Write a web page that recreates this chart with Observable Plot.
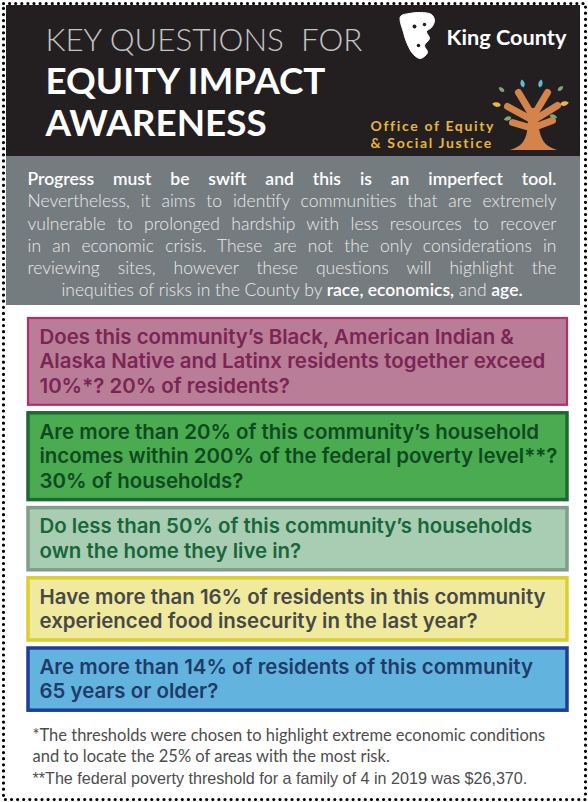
<!DOCTYPE html>
<html><head><meta charset="utf-8">
<script src="https://cdn.jsdelivr.net/npm/d3@7"></script>
<script src="https://cdn.jsdelivr.net/npm/@observablehq/plot@0.6"></script>
<style>html,body{margin:0;padding:0;background:#fff;overflow:hidden}</style>
</head><body><div id="chart"></div>
<script>
// ---------- content ----------
const titleLines = ["KEY QUESTIONS  FOR", "EQUITY IMPACT", "AWARENESS"];
const brandName = "King County";
const officeLines = ["Office of Equity", "& Social Justice"];
const introLines = [
  "Progress must be swift and this is an imperfect tool.",
  "Nevertheless, it aims to identify communities that are extremely",
  "vulnerable to prolonged hardship with less resources to recover",
  "in an economic crisis. These are not the only considerations in",
  "reviewing sites, however these questions will highlight the",
  "inequities of risks in the County by race, economics, and age."
];
const introEmphasis = ["race, economics,", "age."];
const questionThemes = ["race", "income", "housing", "food", "age"];
const questionLines = [
  ["Does this community’s Black, American Indian &", "Alaska Native and Latinx residents together exceed", "10%*? 20% of residents?"],
  ["Are more than 20% of this community’s household", "incomes within 200% of the federal poverty level**?", "30% of households?"],
  ["Do less than 50% of this community’s households", "own the home they live in?"],
  ["Have more than 16% of residents in this community", "experienced food insecurity in the last year?"],
  ["Are more than 14% of residents of this community", "65 years or older?"]
];
const footnoteLines = [
  "*The thresholds were chosen to highlight extreme economic conditions",
  "and to locate the 25% of areas with the most risk.",
  "**The federal poverty threshold for a family of 4 in 2019 was $26,370."
];
const leafKinds = ["blue", "blue", "green", "green", "yellow", "yellow", "green", "green"];

// ---------- styles ----------
const theme = {
  race:    {fill: "#b97d97", stroke: "#b3306b", text: "#7a2553", sw: 2.2},
  income:  {fill: "#4bab50", stroke: "#1c6a33", text: "#0e4a21", sw: 3.5},
  housing: {fill: "#a9cdb2", stroke: "#7f9f87", text: "#17673a", sw: 3.5},
  food:    {fill: "#f0ea9e", stroke: "#dbce2d", text: "#484848", sw: 3.5},
  age:     {fill: "#63b3df", stroke: "#1d3f98", text: "#1f3b69", sw: 3.5}
};
const leafColor = {blue: "#5bbcd4", green: "#7ba874", yellow: "#eab83c"};

// ---------- layout ----------
const W = 588, H = 802;
const L = {
  panelX1: 6, panelX2: 580, headTop: 5, headBottom: 156, bandBottom: 305,
  titleX: 45, titleY: [40, 82, 124],
  introX1: 27, introX2: 556, introY0: 179, introDy: 22.2,
  boxX1: 28, boxX2: 567, boxTop: 318, lineH: 24.6, pad: 6.5, gap: 8, textX: 39,
  footX: 32, footY: [735, 756, 778]
};
// target text widths (px) used to fit font sizes / tracking
const fit = {title0: 317, title1: 280, brand: 120, office: 124, question: 506, foot0: 513, foot2: 495};

let yy = L.boxTop;
const boxes = questionThemes.map((t, i) => {
  const n = questionLines[i].length;
  const b = {theme: t, y1: yy, y2: yy + n * L.lineH + 2 * L.pad};
  yy = b.y2 + L.gap;
  return b;
});
const qText = questionLines.flatMap((lines, i) => lines.map((s, j) => ({
  text: s, theme: questionThemes[i], y: boxes[i].y1 + L.pad + L.lineH * (j + 0.5)
})));
const panels = [
  {x1: L.panelX1, x2: L.panelX2, y1: L.headTop, y2: L.headBottom, fill: "#231f20"},
  {x1: L.panelX1, x2: L.panelX2, y1: L.headBottom, y2: L.bandBottom, fill: "#757c7f"}
];
// logo geometry (decorative)
const treeC = {x: 532, y: 108};
const leafPose = [[-10, -25, -12, 10], [8, -25, 12, 10], [-31, -19, -52, 7.5], [28, -20, 52, 7.5],
                  [-36, -4, -80, 12], [32, -5, 80, 12], [-25, 10, -110, 10], [21, 8, 110, 10]];
const leaves = leafKinds.map((k, i) => ({x: treeC.x + leafPose[i][0], y: treeC.y + leafPose[i][1], rot: leafPose[i][2], r: leafPose[i][3], fill: leafColor[k]}));
const trunk = [[150, 510, 557], [146, 521, 546], [136, 527, 540], [122, 528, 538], [108, 528, 537]]
  .map(([y, x1, x2]) => ({y, x1, x2}));
const branches = [[530, 112, 518, 92], [535, 112, 547, 92], [529, 118, 507, 106], [536, 118, 557, 105],
                  [529, 127, 512, 122], [536, 126, 552, 120]].map(([x1, y1, x2, y2]) => ({x1, y1, x2, y2}));
const face = [[400, 16], [409, 13], [420, 12], [431, 14], [434, 20], [431, 27], [426, 31], [429, 38], [424, 45], [427, 52], [420, 58], [413, 54], [407, 44], [403, 32]]
  .map(([x, y]) => ({x, y}));
const faceMarks = [[414, 26, 2.4], [424, 24, 2], [418, 45, 2]].map(([x, y, r]) => ({x, y, r}));

const leafSymbol = {
  draw(ctx, size) {
    const r = Math.sqrt(size / Math.PI), w = r * 0.7;
    ctx.moveTo(0, -r);
    ctx.bezierCurveTo(w, -r * 0.4, w, r * 0.65, 0, r);
    ctx.bezierCurveTo(-w, r * 0.65, -w, -r * 0.4, 0, -r);
    ctx.closePath();
  }
};

const intro0 = introLines.slice(0, 1);
const introMid = introLines.slice(1, 5);
const introLast = introLines.slice(5);

const svg = Plot.plot({
  width: W, height: H, margin: 0,
  x: {domain: [0, W], range: [0, W], axis: null},
  y: {domain: [0, H], range: [0, H], axis: null},
  color: {type: "identity"},
  style: {fontFamily: "Lato, sans-serif", background: "#fff"},
  marks: [
    Plot.rect(panels, {x1: "x1", x2: "x2", y1: "y1", y2: "y2", fill: "fill"}),
    Plot.frame({stroke: "#000", strokeWidth: 3.2, strokeDasharray: "0 6.1", strokeLinecap: "round", inset: 3}),
    // header title
    Plot.text(titleLines.slice(0, 1), {x: L.titleX, y: L.titleY[0], text: d => d, textAnchor: "start", fill: "#c4c4c4", fontSize: 31, fontWeight: 300, ariaDescription: "title0"}),
    Plot.text(titleLines.slice(1), {x: L.titleX, y: (d, i) => L.titleY[i + 1], text: d => d, textAnchor: "start", fill: "#ffffff", fontSize: 36, fontWeight: 700, ariaDescription: "title1"}),
    // King County logo
    Plot.line(face, {x: "x", y: "y", fill: "#ffffff", stroke: "#ffffff", strokeWidth: 1, curve: "catmull-rom-closed"}),
    Plot.dot(faceMarks, {x: "x", y: "y", r: "r", fill: "#231f20", stroke: null}),
    Plot.text([brandName], {x: 446, y: 38, text: d => d, textAnchor: "start", fill: "#ffffff", fontSize: 20, fontWeight: 700, ariaDescription: "brand"}),
    // Office of Equity tree logo
    Plot.areaX(trunk, {y: "y", x1: "x1", x2: "x2", fill: "#d4834b", curve: "basis"}),
    Plot.link(branches, {x1: "x1", y1: "y1", x2: "x2", y2: "y2", stroke: "#d4834b", strokeWidth: 7, strokeLinecap: "round"}),
    Plot.dot(leaves, {x: "x", y: "y", r: "r", rotate: "rot", symbol: leafSymbol, fill: "fill", stroke: null}),
    Plot.text(officeLines, {x: 370, y: (d, i) => 126 + i * 17, text: d => d, textAnchor: "start", fill: "#e9b43b", fontSize: 14, fontWeight: 700, ariaDescription: "office"}),
    // intro paragraph
    Plot.text(intro0, {x: L.introX1, y: L.introY0, text: d => d, textAnchor: "start", fill: "#ffffff", fontSize: 17.5, fontWeight: 600, ariaDescription: "intro-just"}),
    Plot.text(introMid, {x: L.introX1, y: (d, i) => L.introY0 + (i + 1) * L.introDy, text: d => d, textAnchor: "start", fill: "#ebebeb", fontSize: 17.5, fontWeight: 300, ariaDescription: "intro-just"}),
    Plot.text(introLast, {x: (L.introX1 + L.introX2) / 2, y: L.introY0 + 5 * L.introDy, text: d => d, textAnchor: "middle", fill: "#ebebeb", fontSize: 17.5, fontWeight: 300, ariaDescription: "intro-last"}),
    // question boxes
    Plot.rect(boxes, {x1: L.boxX1, x2: L.boxX2, y1: "y1", y2: "y2", fill: d => theme[d.theme].fill, stroke: d => theme[d.theme].stroke, strokeWidth: d => theme[d.theme].sw}),
    Plot.text(qText, {x: L.textX, y: "y", text: "text", textAnchor: "start", fill: d => theme[d.theme].text, fontSize: 18.5, fontWeight: 600, fontFamily: "Inter, Lato, sans-serif", ariaDescription: "question"}),
    // footnotes
    Plot.text(footnoteLines.slice(0, 2), {x: L.footX, y: (d, i) => L.footY[i], text: d => d, textAnchor: "start", fill: "#4d4d4d", fontSize: 15.5, fontWeight: 400, ariaDescription: "foot0"}),
    Plot.text(footnoteLines.slice(2), {x: L.footX, y: L.footY[2], text: d => d, textAnchor: "start", fill: "#4d4d4d", fontSize: 14.6, fontFamily: "'Liberation Sans', Arial, sans-serif", ariaDescription: "foot2"})
  ]
});
document.getElementById("chart").append(svg);

function fitGroup(desc, index, target) {
  const g = svg.querySelector(`g[aria-description="${desc}"]`);
  if (!g) return;
  if (!g.dataset.f0) g.dataset.f0 = parseFloat(g.getAttribute("font-size"));
  g.setAttribute("font-size", g.dataset.f0);
  const t = g.querySelectorAll("text")[index];
  const w = t.getComputedTextLength();
  if (w > 0) g.setAttribute("font-size", (+g.dataset.f0) * target / w);
}
function trackGroup(desc, index, target) {
  const g = svg.querySelector(`g[aria-description="${desc}"]`);
  if (!g) return;
  g.setAttribute("letter-spacing", 0);
  const t = g.querySelectorAll("text")[index];
  const w = t.getComputedTextLength(), n = t.textContent.length;
  if (w > 0 && n > 1) g.setAttribute("letter-spacing", (target - w) / n);
}

function finish() {
  const ns = "http://www.w3.org/2000/svg";
  fitGroup("title0", 0, fit.title0);
  fitGroup("title1", 0, fit.title1);
  fitGroup("brand", 0, fit.brand);
  trackGroup("office", 0, fit.office);
  fitGroup("question", 1, fit.question);
  fitGroup("foot0", 0, fit.foot0);
  fitGroup("foot2", 0, fit.foot2);
  const target = L.introX2 - L.introX1;
  svg.querySelectorAll('g[aria-description="intro-just"] text').forEach(t => {
    t.style.wordSpacing = "0px";
    const s = t.textContent, spaces = (s.match(/ /g) || []).length;
    const w = t.getComputedTextLength();
    if (spaces) t.style.wordSpacing = ((target - w) / spaces) + "px";
  });
  const last = svg.querySelector('g[aria-description="intro-last"] text');
  if (last && !last.querySelector("tspan")) {
    const s = last.textContent;
    const parts = [];
    let rest = s;
    introEmphasis.forEach(e => {
      const k = rest.indexOf(e);
      if (k >= 0) { parts.push([rest.slice(0, k), false], [e, true]); rest = rest.slice(k + e.length); }
    });
    if (rest) parts.push([rest, false]);
    last.textContent = "";
    parts.forEach(([p, b]) => {
      const ts = document.createElementNS(ns, "tspan");
      ts.textContent = p;
      if (b) { ts.setAttribute("font-weight", "600"); ts.setAttribute("fill", "#ffffff"); }
      last.append(ts);
    });
  }
}
finish();
if (document.fonts && document.fonts.ready) document.fonts.ready.then(finish);
</script>
</body></html>
